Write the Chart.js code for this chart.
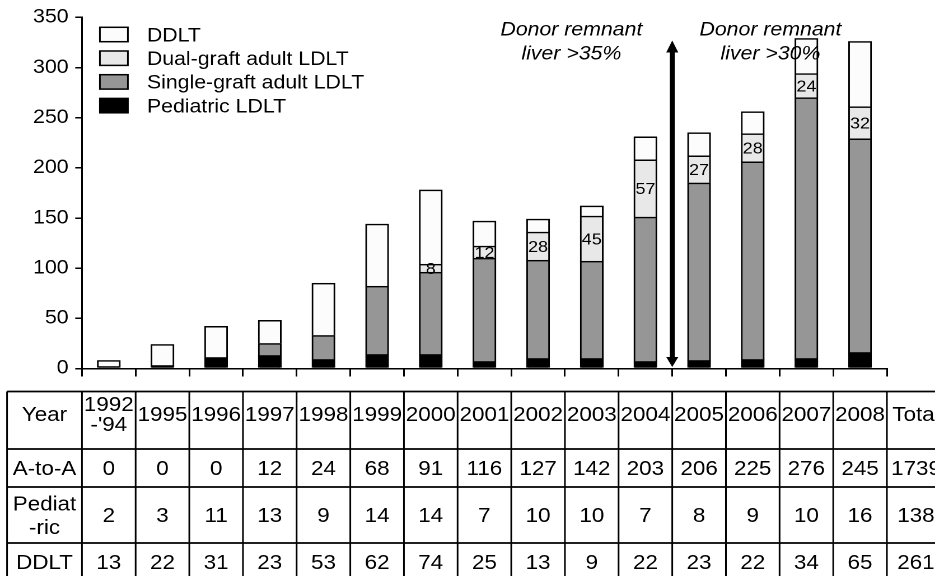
<!DOCTYPE html>
<html>
<head>
<meta charset="utf-8">
<title>Liver transplantation by year</title>
<script src="https://cdn.jsdelivr.net/npm/chart.js@4.4.1/dist/chart.umd.min.js"></script>
<style>
  html, body { margin: 0; padding: 0; background: #fff; overflow: hidden; }
  /* the source figure is slightly stretched sideways, so is this one */
  #wrap { width: 835px; height: 576px; transform: scaleX(1.1198); transform-origin: 0 0; }
</style>
</head>
<body>
<div id="wrap"><canvas id="chart" width="835" height="576"></canvas></div>
<script>
const FONT = '"Liberation Sans", Arial, Helvetica, sans-serif';

// categories
const years = ["1992-'94", '1995', '1996', '1997', '1998', '1999', '2000', '2001', '2002', '2003', '2004', '2005', '2006', '2007', '2008'];

// bar segments
const pediatricBars = [2, 3, 11, 13, 9, 14, 14, 7, 10, 10, 7, 8, 9, 10, 16];
const singleBars = [0, 0, 0, 12, 24, 68, 82, 103, 98, 97, 144, 177, 197, 260, 213];
const dualBars = [0, 0, 0, 0, 0, 0, 8, 12, 28, 45, 57, 27, 28, 24, 32];
const ddltBars = [6, 21, 31, 23, 52, 62, 74, 25, 13, 10, 23, 23, 22, 35, 65];

// table under the chart
const tableYears = ["1992\n-'94", '1995', '1996', '1997', '1998', '1999', '2000', '2001', '2002', '2003', '2004', '2005', '2006', '2007', '2008'];
const rowAtoA = [0, 0, 0, 12, 24, 68, 91, 116, 127, 142, 203, 206, 225, 276, 245];
const rowPediatric = [2, 3, 11, 13, 9, 14, 14, 7, 10, 10, 7, 8, 9, 10, 16];
const rowDdlt = [13, 22, 31, 23, 53, 62, 74, 25, 13, 9, 22, 23, 22, 34, 65];
const rowHeads = ['Year', 'A-to-A', 'Pediat\n-ric', 'DDLT'];
const rowTotals = ['Total', '1739', '138', '261'];

const yTicks = [0, 50, 100, 150, 200, 250, 300, 350];

// notes over the bars (position in axis units)
const notes = [
  { lines: ['Donor remnant', 'liver >35%'], at: 8.62 },
  { lines: ['Donor remnant', 'liver >30%'], at: 12.33 }
];
const arrowAt = 10.5;
const arrowTop = 327;

function capText(ctx, text, x, cy, size) {
  // centre the cap height of the text on cy
  ctx.fillText(text, x, cy + size * 0.36);
}

function multiText(ctx, text, x, cy, size, gap) {
  const parts = text.split('\n');
  if (parts.length === 1) {
    capText(ctx, parts[0], x, cy, size);
    return;
  }
  capText(ctx, parts[0], x, cy - gap / 2, size);
  capText(ctx, parts[1], x, cy + gap / 2, size);
}

const overlayPlugin = {
  id: 'overlay',
  afterDatasetsDraw(chart) {
    const { ctx, scales: { x, y }, chartArea } = chart;
    ctx.save();
    ctx.fillStyle = '#000';
    ctx.textAlign = 'center';

    // value of the dual-graft segment, written inside it
    const dualMeta = chart.getDatasetMeta(2);
    ctx.font = '16px ' + FONT;
    dualMeta.data.forEach((bar, i) => {
      if (!dualBars[i]) return;
      capText(ctx, String(dualBars[i]), bar.x, (bar.y + bar.base) / 2, 16);
    });

    // italic notes
    ctx.font = 'italic 19px ' + FONT;
    notes.forEach((note) => {
      const cx = x.getPixelForValue(note.at);
      capText(ctx, note.lines[0], cx, y.getPixelForValue(339), 19);
      capText(ctx, note.lines[1], cx, y.getPixelForValue(315), 19);
    });

    // double arrow
    const ax = x.getPixelForValue(arrowAt);
    const top = y.getPixelForValue(arrowTop);
    const bottom = y.getPixelForValue(0) - 1.5;
    ctx.fillRect(ax - 2.2, top + 10, 4.4, bottom - top - 20);
    ctx.beginPath();
    ctx.moveTo(ax, top);
    ctx.lineTo(ax - 5.4, top + 12);
    ctx.lineTo(ax + 5.4, top + 12);
    ctx.closePath();
    ctx.fill();
    ctx.beginPath();
    ctx.moveTo(ax, bottom);
    ctx.lineTo(ax - 5.4, bottom - 10);
    ctx.lineTo(ax + 5.4, bottom - 10);
    ctx.closePath();
    ctx.fill();

    // legend, top item first
    ctx.textAlign = 'left';
    ctx.font = '19px ' + FONT;
    const legendItems = chart.data.datasets.slice().reverse();
    legendItems.forEach((ds, k) => {
      const cy = 34.5 + k * 23.7;
      const bx = chartArea.left + 16;
      ctx.fillStyle = ds.backgroundColor;
      ctx.fillRect(bx, cy - 7.2, 25, 14.4);
      ctx.strokeStyle = '#000';
      ctx.lineWidth = 1.5;
      ctx.strokeRect(bx, cy - 7.2, 25, 14.4);
      ctx.fillStyle = '#000';
      capText(ctx, ds.label, bx + 42, cy, 19);
    });

    // table
    const rows = [391.5, 449, 487, 543, 600];
    const tableLeft = 6.3;
    const catW = x.getPixelForValue(1) - x.getPixelForValue(0);
    const edges = [tableLeft];
    for (let i = 0; i <= years.length; i++) edges.push(x.getPixelForValue(i - 0.5));
    edges.push(chartArea.right + catW);

    ctx.strokeStyle = '#000';
    ctx.lineWidth = 1.8;
    rows.forEach((ry) => {
      ctx.beginPath();
      ctx.moveTo(tableLeft, ry);
      ctx.lineTo(chart.width, ry);
      ctx.stroke();
    });
    ctx.lineWidth = 1.5;
    edges.forEach((ex) => {
      ctx.beginPath();
      ctx.moveTo(ex, rows[0]);
      ctx.lineTo(ex, rows[4]);
      ctx.stroke();
    });

    ctx.textAlign = 'center';
    ctx.font = '20px ' + FONT;
    const rowCy = [414, 468, 515, 562];
    const rowData = [tableYears, rowAtoA, rowPediatric, rowDdlt];
    rowHeads.forEach((head, r) => {
      multiText(ctx, head, (edges[0] + edges[1]) / 2, rowCy[r], 20, 23.5);
      rowData[r].forEach((v, i) => {
        multiText(ctx, String(v), x.getPixelForValue(i), rowCy[r], 20, 20);
      });
      multiText(ctx, rowTotals[r], chartArea.right + catW / 2 + 2, rowCy[r], 20, 20);
    });

    ctx.restore();
  }
};

Chart.defaults.font.family = FONT;
Chart.defaults.color = '#000';

const barStyle = {
  borderColor: '#000',
  borderWidth: 1.5,
  barThickness: 20.5
};

new Chart(document.getElementById('chart'), {
  type: 'bar',
  data: {
    labels: years,
    datasets: [
      { label: 'Pediatric LDLT', data: pediatricBars, backgroundColor: '#000000', ...barStyle },
      { label: 'Single-graft adult LDLT', data: singleBars, backgroundColor: '#969696', ...barStyle },
      { label: 'Dual-graft adult LDLT', data: dualBars, backgroundColor: '#e8e8e8', ...barStyle },
      { label: 'DDLT', data: ddltBars, backgroundColor: '#fcfcfc', ...barStyle }
    ]
  },
  options: {
    responsive: false,
    animation: false,
    devicePixelRatio: 2,
    layout: { padding: { top: 17, right: 43, bottom: 199.5, left: 0 } },
    plugins: {
      legend: { display: false },
      tooltip: { enabled: false }
    },
    scales: {
      x: {
        stacked: true,
        offset: true,
        ticks: { display: false },
        grid: { offset: true, drawOnChartArea: false, drawTicks: true, tickLength: 8, color: '#000', lineWidth: 1.5 },
        border: { display: true, color: '#000', width: 1.5 }
      },
      y: {
        stacked: true,
        min: yTicks[0],
        max: yTicks[yTicks.length - 1],
        afterBuildTicks(scale) {
          scale.ticks = yTicks.map((v) => ({ value: v }));
        },
        ticks: { font: { size: 19 }, padding: 6, color: '#000' },
        grid: { drawOnChartArea: false, drawTicks: true, tickLength: 6, color: '#000', lineWidth: 1.5 },
        border: { display: true, color: '#000', width: 1.5 },
        afterFit(scale) {
          scale.width = 73.2;
        }
      }
    }
  },
  plugins: [overlayPlugin]
});
</script>
</body>
</html>
